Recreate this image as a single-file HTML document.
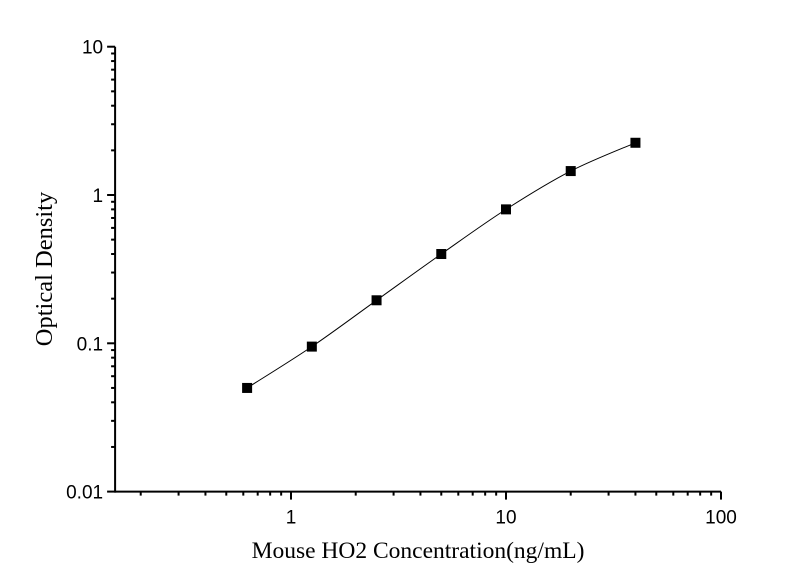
<!DOCTYPE html>
<html><head><meta charset="utf-8"><style>
html,body{margin:0;padding:0;background:#fff;width:795px;height:576px;overflow:hidden}
svg{display:block}
text{font-family:"Liberation Sans",Arial,sans-serif}
</style></head><body>
<svg id="chart" width="795" height="576" viewBox="0 0 795 576" xmlns="http://www.w3.org/2000/svg">
<g id="axes"></g>
<g id="marks"></g>
<text x="418" y="558" text-anchor="middle" font-size="23.5" style="font-family:'Liberation Serif',serif">Mouse HO2 Concentration(ng/mL)</text>
<text transform="translate(52,269) rotate(-90)" text-anchor="middle" font-size="24.5" style="font-family:'Liberation Serif',serif">Optical Density</text>
</svg>
<script>
const concentrations=[0.625,1.25,2.5,5,10,20,40];
const odValues=[0.05,0.095,0.195,0.4,0.8,1.45,2.25];
const xTickLabels=["1","10","100"];
const yTickLabels=["0.01","0.1","1","10"];
const NS="http://www.w3.org/2000/svg";
const X0=291,XD=215,Y0=195,YD=148.3;
function xs(v){return X0+XD*Math.log10(v);}
function ys(v){return Y0-YD*Math.log10(v);}
function el(t,a,p){const e=document.createElementNS(NS,t);for(const k in a)e.setAttribute(k,a[k]);p.appendChild(e);return e;}
const ax=document.getElementById('axes'),mk=document.getElementById('marks');
const xMin=0.152,xMax=100,yMin=0.01,yMax=10;
const xl=el('line',{x1:xs(xMin),y1:ys(yMin),x2:xs(xMax),y2:ys(yMin),stroke:'#000','stroke-width':2},ax);

const yl=el('line',{x1:xs(xMin),y1:ys(yMin)+1,x2:xs(xMin),y2:ys(yMax),stroke:'#000','stroke-width':2},ax);

for(let d=-1;d<=2;d++){for(let m=1;m<=9;m++){const v=m*Math.pow(10,d);if(v<xMin-1e-9||v>xMax+1e-9)continue;const x=xs(v);const len=m===1?8:4;
const t=el('line',{x1:x,y1:ys(yMin),x2:x,y2:ys(yMin)+len,stroke:'#000','stroke-width':2},ax);}}
xTickLabels.forEach(s=>{const t=el('text',{x:xs(parseFloat(s)),y:ys(yMin)+32,'text-anchor':'middle','font-size':19},ax);t.textContent=s;});
for(let d=-2;d<=1;d++){for(let m=1;m<=9;m++){const v=m*Math.pow(10,d);if(v>yMax+1e-9)continue;const y=ys(v);const len=m===1?8:4;
const t=el('line',{x1:xs(xMin),y1:y,x2:xs(xMin)-len,y2:y,stroke:'#000','stroke-width':2},ax);}}
yTickLabels.forEach(s=>{const t=el('text',{x:xs(xMin)-12,y:ys(parseFloat(s))+7,'text-anchor':'end','font-size':19},ax);t.textContent=s;});
const P=concentrations.map((c,i)=>[xs(c),ys(odValues[i])]);
let d='M'+P[0][0]+','+P[0][1];
for(let i=0;i<P.length-1;i++){const p0=P[i-1]||P[i],p1=P[i],p2=P[i+1],p3=P[i+2]||P[i+1];
d+=` C${p1[0]+(p2[0]-p0[0])/6},${p1[1]+(p2[1]-p0[1])/6} ${p2[0]-(p3[0]-p1[0])/6},${p2[1]-(p3[1]-p1[1])/6} ${p2[0]},${p2[1]}`;}
const c=el('path',{d:d,fill:'none',stroke:'#000','stroke-width':1},mk);
P.forEach(p=>{const r=el('rect',{x:p[0]-5,y:p[1]-5,width:10,height:10,fill:'#000'},mk);});
</script>
</body></html>
